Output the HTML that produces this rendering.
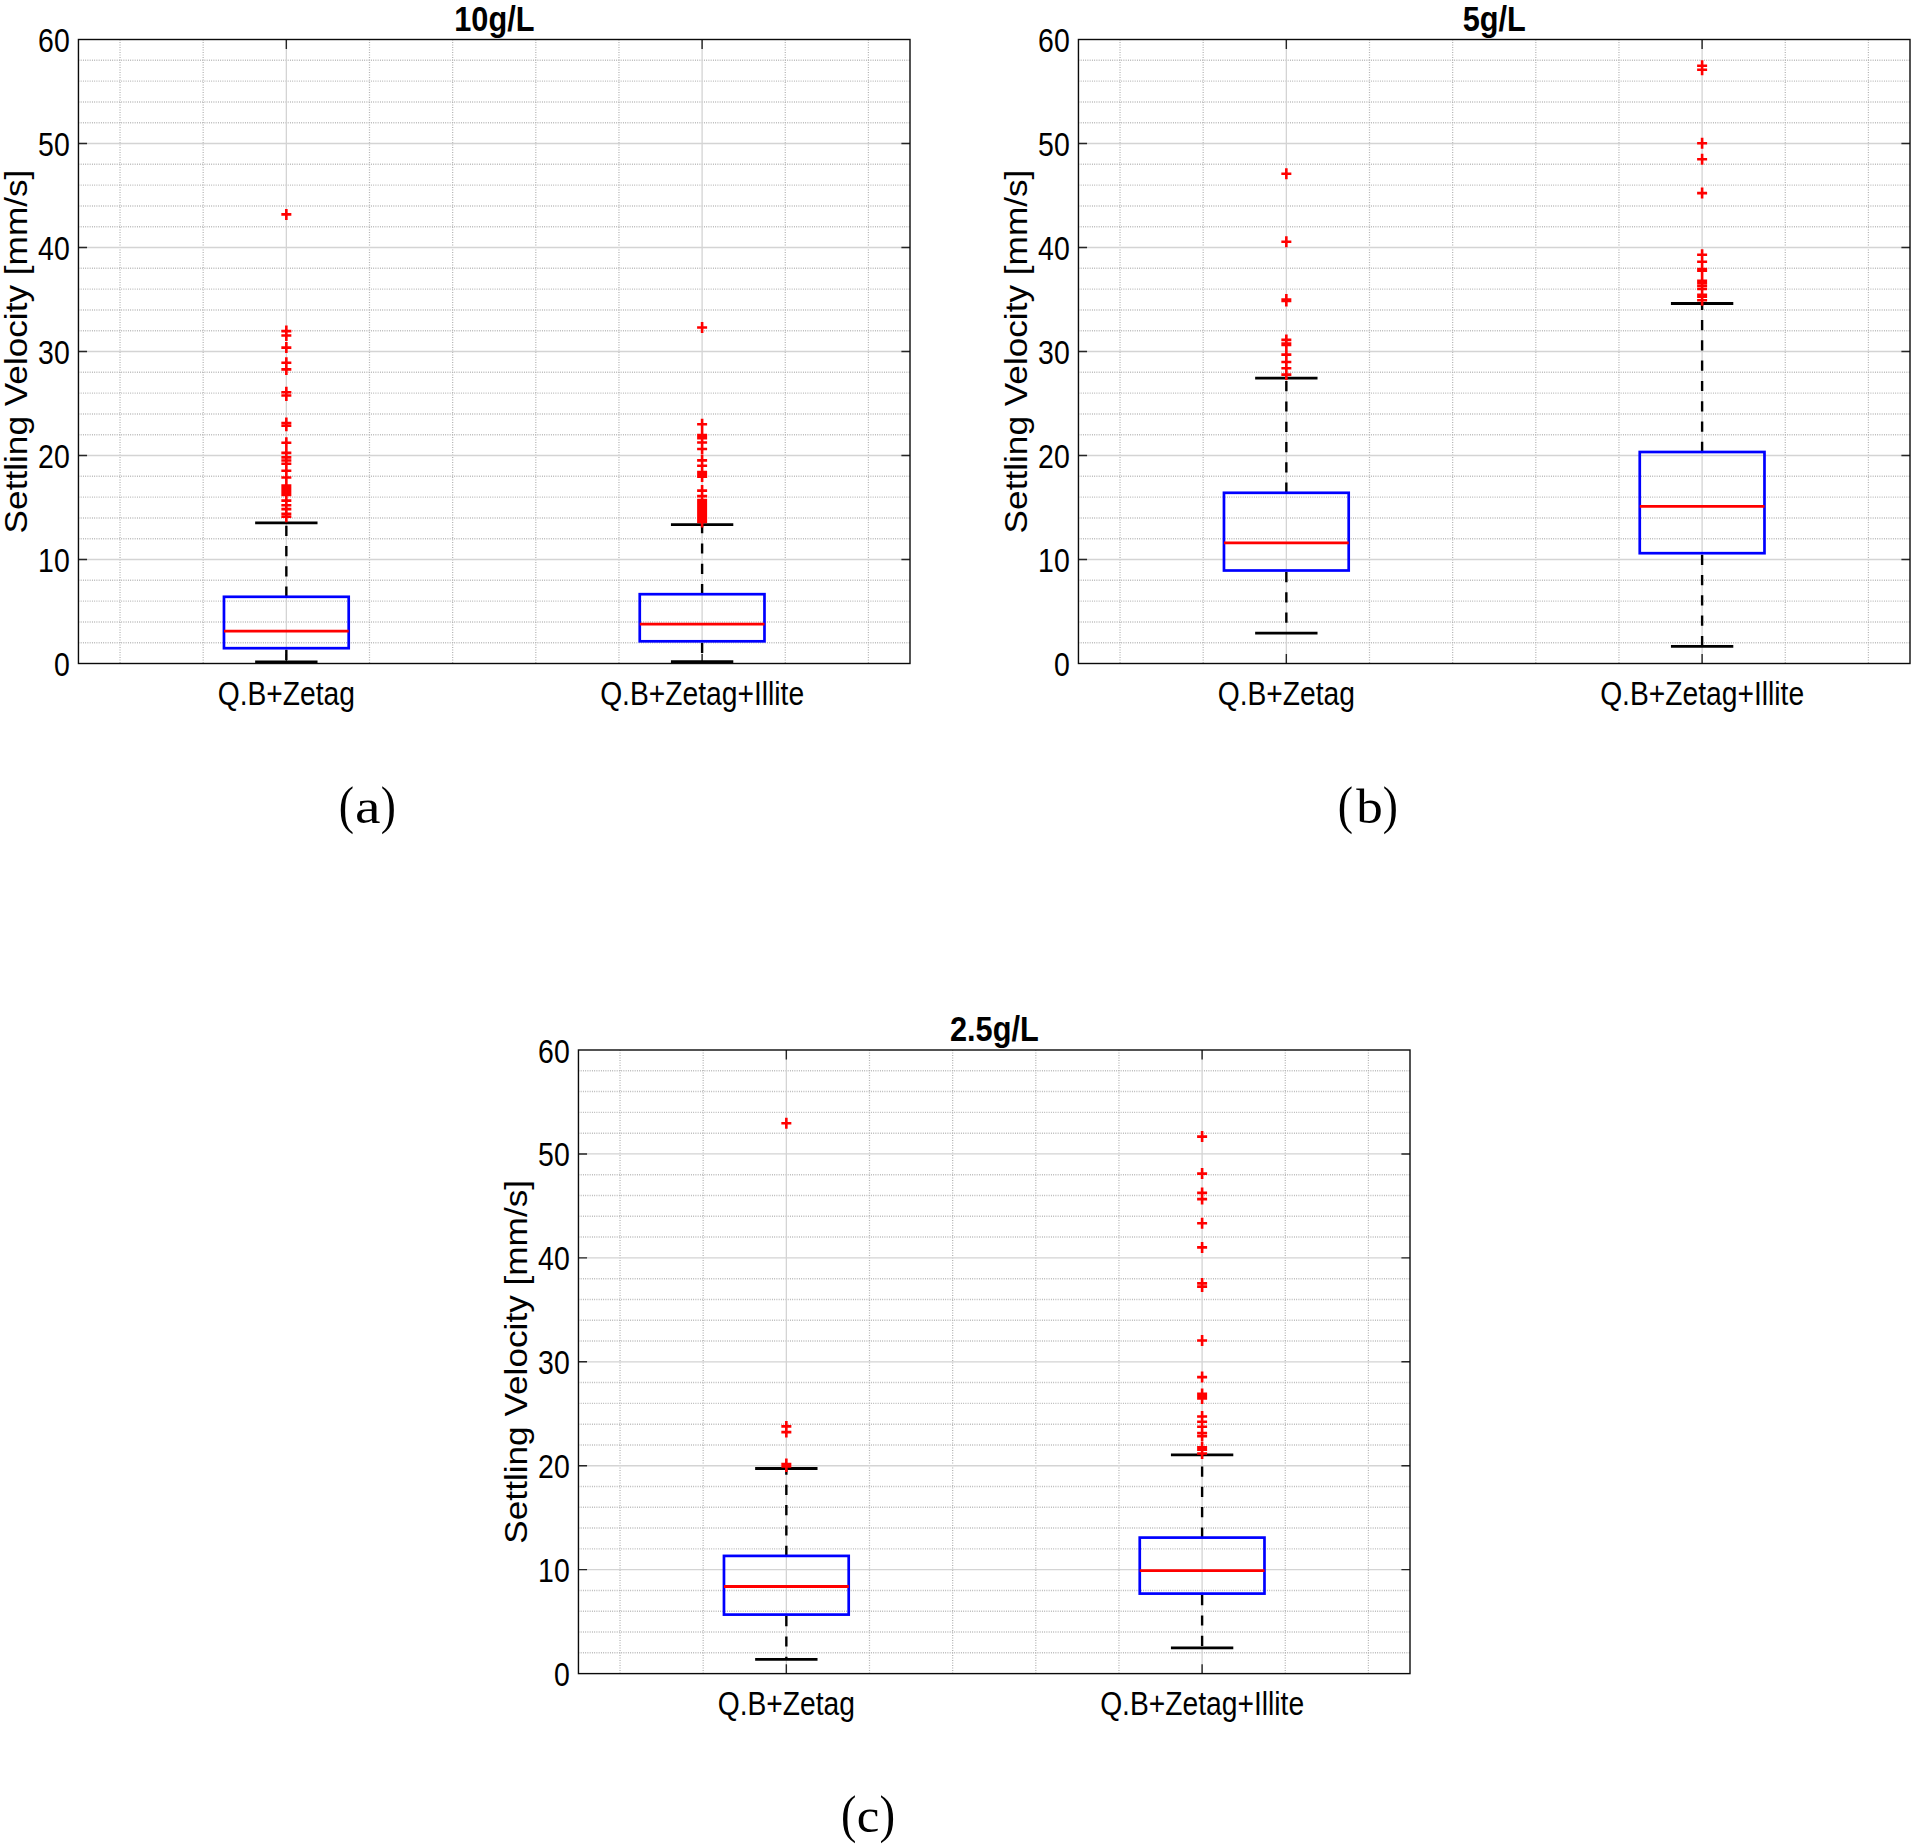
<!DOCTYPE html>
<html lang="en"><head><meta charset="utf-8"><title>Settling velocity boxplots</title>
<style>
html,body{margin:0;padding:0;background:#fff;}
body{width:1915px;height:1848px;overflow:hidden;}
svg{display:block;}
text{font-family:"Liberation Sans",Arial,Helvetica,sans-serif;fill:#000;}
.tl{font-size:32.6px;}
.tt{font-size:36px;font-weight:bold;}
.yl{font-size:35.2px;}
.cap{font-family:"Liberation Serif","Times New Roman",serif;}
.mg{stroke:#b4b4b4;stroke-width:1.45;stroke-dasharray:0.9 1.35;fill:none;}
.mv{stroke-width:1.25;stroke-dasharray:1 1.5;}
.Mg{stroke:#d4d4d4;stroke-width:1.3;fill:none;}
.tk{stroke:#262626;stroke-width:1.4;fill:none;}
.fr{stroke:#0a0a0a;stroke-width:1.4;fill:none;}
.wh{stroke:#000;stroke-width:2.4;stroke-dasharray:10.2 10.1;fill:none;}
.cp{stroke:#000;stroke-width:2.8;fill:none;}
.bx{stroke:#0000ff;stroke-width:2.7;fill:none;}
.md{stroke:#ff0000;stroke-width:2.8;fill:none;}
.ol{stroke:#ff0000;stroke-width:2.6;fill:none;}
</style></head>
<body>
<svg width="1915" height="1848" viewBox="0 0 1915 1848">
<rect width="1915" height="1848" fill="#fff"/>
<g>
<path class="mg" d="M78.45 642.7H910M78.45 621.9H910M78.45 601.1H910M78.45 580.3H910M78.45 538.7H910M78.45 517.9H910M78.45 497.1H910M78.45 476.3H910M78.45 434.7H910M78.45 413.9H910M78.45 393.1H910M78.45 372.3H910M78.45 330.7H910M78.45 309.9H910M78.45 289.1H910M78.45 268.3H910M78.45 226.7H910M78.45 205.9H910M78.45 185.1H910M78.45 164.3H910M78.45 122.7H910M78.45 101.9H910M78.45 81.1H910M78.45 60.3H910"/>
<path class="mg mv" d="M120.03 39.5V663.5M203.18 39.5V663.5M369.49 39.5V663.5M452.65 39.5V663.5M535.8 39.5V663.5M618.96 39.5V663.5M785.27 39.5V663.5M868.42 39.5V663.5"/>
<path class="Mg" d="M78.45 559.5H910M78.45 455.5H910M78.45 351.5H910M78.45 247.5H910M78.45 143.5H910M286.34 39.5V663.5M702.11 39.5V663.5"/>
<path class="tk" d="M78.45 559.5h8.6M910 559.5h-8.6M78.45 455.5h8.6M910 455.5h-8.6M78.45 351.5h8.6M910 351.5h-8.6M78.45 247.5h8.6M910 247.5h-8.6M78.45 143.5h8.6M910 143.5h-8.6M286.34 663.5v-9.46M286.34 39.5v9.46M702.11 663.5v-9.46M702.11 39.5v9.46"/>
<path class="wh" d="M286.34 596.8V522.9M286.34 649.7V662"/>
<path class="cp" d="M255.15 522.9h62.37M255.15 662h62.37"/>
<rect class="bx" x="223.97" y="596.8" width="124.73" height="51.4"/>
<path class="md" d="M223.97 631.2h124.73"/>
<path class="ol" d="M281.34 214.4h10M286.34 208.9v11M281.34 331.1h10M286.34 325.6v11M281.34 335.5h10M286.34 330v11M281.34 347.6h10M286.34 342.1v11M281.34 362.7h10M286.34 357.2v11M281.34 369.4h10M286.34 363.9v11M281.34 392.3h10M286.34 386.8v11M281.34 395.5h10M286.34 390v11M281.34 423h10M286.34 417.5v11M281.34 425.8h10M286.34 420.3v11M281.34 442.8h10M286.34 437.3v11M281.34 452.9h10M286.34 447.4v11M281.34 457.4h10M286.34 451.9v11M281.34 460.5h10M286.34 455v11M281.34 463.7h10M286.34 458.2v11M281.34 470.7h10M286.34 465.2v11M281.34 477.5h10M286.34 472v11M281.34 485.5h10M286.34 480v11M281.34 487.5h10M286.34 482v11M281.34 489.5h10M286.34 484v11M281.34 491.5h10M286.34 486v11M281.34 493.5h10M286.34 488v11M281.34 495h10M286.34 489.5v11M281.34 500.6h10M286.34 495.1v11M281.34 505.3h10M286.34 499.8v11M281.34 509.1h10M286.34 503.6v11M281.34 513.9h10M286.34 508.4v11M281.34 516.7h10M286.34 511.2v11"/>
<path class="wh" d="M702.11 594.2V524.7M702.11 642.8V661.7"/>
<path class="cp" d="M670.93 524.7h62.37M670.93 661.7h62.37"/>
<rect class="bx" x="639.75" y="594.2" width="124.73" height="47.1"/>
<path class="md" d="M639.75 624.2h124.73"/>
<path class="ol" d="M697.11 327.5h10M702.11 322v11M697.11 424.3h10M702.11 418.8v11M697.11 435h10M702.11 429.5v11M697.11 436.6h10M702.11 431.1v11M697.11 438.3h10M702.11 432.8v11M697.11 442.5h10M702.11 437v11M697.11 449h10M702.11 443.5v11M697.11 460.4h10M702.11 454.9v11M697.11 465.8h10M702.11 460.3v11M697.11 472h10M702.11 466.5v11M697.11 474h10M702.11 468.5v11M697.11 476.6h10M702.11 471.1v11M697.11 490.6h10M702.11 485.1v11M697.11 496.1h10M702.11 490.6v11M697.11 500h10M702.11 494.5v11M697.11 502h10M702.11 496.5v11M697.11 504h10M702.11 498.5v11M697.11 506h10M702.11 500.5v11M697.11 508h10M702.11 502.5v11M697.11 510h10M702.11 504.5v11M697.11 512h10M702.11 506.5v11M697.11 514h10M702.11 508.5v11M697.11 516h10M702.11 510.5v11M697.11 518h10M702.11 512.5v11M697.11 520h10M702.11 514.5v11M697.11 522h10M702.11 516.5v11"/>
<rect class="fr" x="78.45" y="39.5" width="831.55" height="624"/>
<text class="tl" text-anchor="end" transform="translate(69.75 676) scale(0.873 1)">0</text>
<text class="tl" text-anchor="end" transform="translate(69.75 572) scale(0.873 1)">10</text>
<text class="tl" text-anchor="end" transform="translate(69.75 468) scale(0.873 1)">20</text>
<text class="tl" text-anchor="end" transform="translate(69.75 364) scale(0.873 1)">30</text>
<text class="tl" text-anchor="end" transform="translate(69.75 260) scale(0.873 1)">40</text>
<text class="tl" text-anchor="end" transform="translate(69.75 156) scale(0.873 1)">50</text>
<text class="tl" text-anchor="end" transform="translate(69.75 52) scale(0.873 1)">60</text>
<text class="tl" text-anchor="middle" transform="translate(286.34 705) scale(0.866 1)">Q.B+Zetag</text>
<text class="tl" text-anchor="middle" transform="translate(702.11 705) scale(0.866 1)">Q.B+Zetag+Illite</text>
<text class="tt" text-anchor="middle" transform="translate(494.33 30.5) scale(0.853 1)">10g/L</text>
<text class="yl" text-anchor="middle" transform="translate(27.15 351.5) rotate(-90) scale(1 0.89)">Settling Velocity [mm/s]</text>
<text class="cap" y="822.5"><tspan x="338.84" font-size="53" textLength="15.28" lengthAdjust="spacingAndGlyphs">(</tspan><tspan x="354.99" font-size="48.5" textLength="25.52" lengthAdjust="spacingAndGlyphs">a</tspan><tspan x="380.72" font-size="53" textLength="15.13" lengthAdjust="spacingAndGlyphs">)</tspan></text>
</g>
<g>
<path class="mg" d="M1078.45 642.7H1910M1078.45 621.9H1910M1078.45 601.1H1910M1078.45 580.3H1910M1078.45 538.7H1910M1078.45 517.9H1910M1078.45 497.1H1910M1078.45 476.3H1910M1078.45 434.7H1910M1078.45 413.9H1910M1078.45 393.1H1910M1078.45 372.3H1910M1078.45 330.7H1910M1078.45 309.9H1910M1078.45 289.1H1910M1078.45 268.3H1910M1078.45 226.7H1910M1078.45 205.9H1910M1078.45 185.1H1910M1078.45 164.3H1910M1078.45 122.7H1910M1078.45 101.9H1910M1078.45 81.1H1910M1078.45 60.3H1910"/>
<path class="mg mv" d="M1120.03 39.5V663.5M1203.18 39.5V663.5M1369.49 39.5V663.5M1452.65 39.5V663.5M1535.8 39.5V663.5M1618.96 39.5V663.5M1785.27 39.5V663.5M1868.42 39.5V663.5"/>
<path class="Mg" d="M1078.45 559.5H1910M1078.45 455.5H1910M1078.45 351.5H1910M1078.45 247.5H1910M1078.45 143.5H1910M1286.34 39.5V663.5M1702.11 39.5V663.5"/>
<path class="tk" d="M1078.45 559.5h8.6M1910 559.5h-8.6M1078.45 455.5h8.6M1910 455.5h-8.6M1078.45 351.5h8.6M1910 351.5h-8.6M1078.45 247.5h8.6M1910 247.5h-8.6M1078.45 143.5h8.6M1910 143.5h-8.6M1286.34 663.5v-9.46M1286.34 39.5v9.46M1702.11 663.5v-9.46M1702.11 39.5v9.46"/>
<path class="wh" d="M1286.34 492.8V378.2M1286.34 572V633.2"/>
<path class="cp" d="M1255.15 378.2h62.37M1255.15 633.2h62.37"/>
<rect class="bx" x="1223.97" y="492.8" width="124.73" height="77.7"/>
<path class="md" d="M1223.97 542.9h124.73"/>
<path class="ol" d="M1281.34 173.8h10M1286.34 168.3v11M1281.34 241.7h10M1286.34 236.2v11M1281.34 299.5h10M1286.34 294v11M1281.34 300.9h10M1286.34 295.4v11M1281.34 339.9h10M1286.34 334.4v11M1281.34 343.5h10M1286.34 338v11M1281.34 344.9h10M1286.34 339.4v11M1281.34 354.6h10M1286.34 349.1v11M1281.34 362h10M1286.34 356.5v11M1281.34 368.3h10M1286.34 362.8v11M1281.34 374.6h10M1286.34 369.1v11"/>
<path class="wh" d="M1702.11 452V303.5M1702.11 554.7V646.4"/>
<path class="cp" d="M1670.93 303.5h62.37M1670.93 646.4h62.37"/>
<rect class="bx" x="1639.75" y="452" width="124.73" height="101.2"/>
<path class="md" d="M1639.75 506.3h124.73"/>
<path class="ol" d="M1697.11 65.7h10M1702.11 60.2v11M1697.11 69.8h10M1702.11 64.3v11M1697.11 143.3h10M1702.11 137.8v11M1697.11 159.2h10M1702.11 153.7v11M1697.11 193.1h10M1702.11 187.6v11M1697.11 254.8h10M1702.11 249.3v11M1697.11 261.7h10M1702.11 256.2v11M1697.11 269h10M1702.11 263.5v11M1697.11 270.6h10M1702.11 265.1v11M1697.11 280.8h10M1702.11 275.3v11M1697.11 282.9h10M1702.11 277.4v11M1697.11 285.7h10M1702.11 280.2v11M1697.11 288.9h10M1702.11 283.4v11M1697.11 294.9h10M1702.11 289.4v11M1697.11 296.6h10M1702.11 291.1v11M1697.11 300.3h10M1702.11 294.8v11"/>
<rect class="fr" x="1078.45" y="39.5" width="831.55" height="624"/>
<text class="tl" text-anchor="end" transform="translate(1069.75 676) scale(0.873 1)">0</text>
<text class="tl" text-anchor="end" transform="translate(1069.75 572) scale(0.873 1)">10</text>
<text class="tl" text-anchor="end" transform="translate(1069.75 468) scale(0.873 1)">20</text>
<text class="tl" text-anchor="end" transform="translate(1069.75 364) scale(0.873 1)">30</text>
<text class="tl" text-anchor="end" transform="translate(1069.75 260) scale(0.873 1)">40</text>
<text class="tl" text-anchor="end" transform="translate(1069.75 156) scale(0.873 1)">50</text>
<text class="tl" text-anchor="end" transform="translate(1069.75 52) scale(0.873 1)">60</text>
<text class="tl" text-anchor="middle" transform="translate(1286.34 705) scale(0.866 1)">Q.B+Zetag</text>
<text class="tl" text-anchor="middle" transform="translate(1702.11 705) scale(0.866 1)">Q.B+Zetag+Illite</text>
<text class="tt" text-anchor="middle" transform="translate(1494.32 30.5) scale(0.853 1)">5g/L</text>
<text class="yl" text-anchor="middle" transform="translate(1027.15 351.5) rotate(-90) scale(1 0.89)">Settling Velocity [mm/s]</text>
<text class="cap" y="822.5"><tspan x="1337.74" font-size="53" textLength="15.28" lengthAdjust="spacingAndGlyphs">(</tspan><tspan x="1356.3" font-size="48.5" textLength="26.49" lengthAdjust="spacingAndGlyphs">b</tspan><tspan x="1382.72" font-size="53" textLength="15.13" lengthAdjust="spacingAndGlyphs">)</tspan></text>
</g>
<g>
<path class="mg" d="M578.45 1652.81H1410M578.45 1632.03H1410M578.45 1611.24H1410M578.45 1590.45H1410M578.45 1548.88H1410M578.45 1528.09H1410M578.45 1507.31H1410M578.45 1486.52H1410M578.45 1444.95H1410M578.45 1424.16H1410M578.45 1403.37H1410M578.45 1382.59H1410M578.45 1341.01H1410M578.45 1320.23H1410M578.45 1299.44H1410M578.45 1278.65H1410M578.45 1237.08H1410M578.45 1216.29H1410M578.45 1195.51H1410M578.45 1174.72H1410M578.45 1133.15H1410M578.45 1112.36H1410M578.45 1091.57H1410M578.45 1070.79H1410"/>
<path class="mg mv" d="M620.03 1050V1673.6M703.18 1050V1673.6M869.49 1050V1673.6M952.65 1050V1673.6M1035.8 1050V1673.6M1118.96 1050V1673.6M1285.27 1050V1673.6M1368.42 1050V1673.6"/>
<path class="Mg" d="M578.45 1569.67H1410M578.45 1465.73H1410M578.45 1361.8H1410M578.45 1257.87H1410M578.45 1153.93H1410M786.34 1050V1673.6M1202.11 1050V1673.6"/>
<path class="tk" d="M578.45 1569.67h8.6M1410 1569.67h-8.6M578.45 1465.73h8.6M1410 1465.73h-8.6M578.45 1361.8h8.6M1410 1361.8h-8.6M578.45 1257.87h8.6M1410 1257.87h-8.6M578.45 1153.93h8.6M1410 1153.93h-8.6M786.34 1673.6v-9.46M786.34 1050v9.46M1202.11 1673.6v-9.46M1202.11 1050v9.46"/>
<path class="wh" d="M786.34 1555.9V1468.5M786.34 1616.1V1659.4"/>
<path class="cp" d="M755.15 1468.5h62.37M755.15 1659.4h62.37"/>
<rect class="bx" x="723.97" y="1555.9" width="124.73" height="58.7"/>
<path class="md" d="M723.97 1586.5h124.73"/>
<path class="ol" d="M781.34 1123.3h10M786.34 1117.8v11M781.34 1426.4h10M786.34 1420.9v11M781.34 1432.1h10M786.34 1426.6v11M781.34 1464h10M786.34 1458.5v11M781.34 1466.5h10M786.34 1461v11"/>
<path class="wh" d="M1202.11 1537.6V1454.8M1202.11 1595.1V1647.9"/>
<path class="cp" d="M1170.93 1454.8h62.37M1170.93 1647.9h62.37"/>
<rect class="bx" x="1139.75" y="1537.6" width="124.73" height="56"/>
<path class="md" d="M1139.75 1570.6h124.73"/>
<path class="ol" d="M1197.11 1136.6h10M1202.11 1131.1v11M1197.11 1173.6h10M1202.11 1168.1v11M1197.11 1192.9h10M1202.11 1187.4v11M1197.11 1199.1h10M1202.11 1193.6v11M1197.11 1223.3h10M1202.11 1217.8v11M1197.11 1247.4h10M1202.11 1241.9v11M1197.11 1283.4h10M1202.11 1277.9v11M1197.11 1286.6h10M1202.11 1281.1v11M1197.11 1340.5h10M1202.11 1335v11M1197.11 1377.1h10M1202.11 1371.6v11M1197.11 1393.9h10M1202.11 1388.4v11M1197.11 1396.4h10M1202.11 1390.9v11M1197.11 1398.5h10M1202.11 1393v11M1197.11 1416.5h10M1202.11 1411v11M1197.11 1421.7h10M1202.11 1416.2v11M1197.11 1426.8h10M1202.11 1421.3v11M1197.11 1433h10M1202.11 1427.5v11M1197.11 1436.1h10M1202.11 1430.6v11M1197.11 1447.4h10M1202.11 1441.9v11M1197.11 1449.8h10M1202.11 1444.3v11M1197.11 1453.5h10M1202.11 1448v11"/>
<rect class="fr" x="578.45" y="1050" width="831.55" height="623.6"/>
<text class="tl" text-anchor="end" transform="translate(569.75 1686.1) scale(0.873 1)">0</text>
<text class="tl" text-anchor="end" transform="translate(569.75 1582.17) scale(0.873 1)">10</text>
<text class="tl" text-anchor="end" transform="translate(569.75 1478.23) scale(0.873 1)">20</text>
<text class="tl" text-anchor="end" transform="translate(569.75 1374.3) scale(0.873 1)">30</text>
<text class="tl" text-anchor="end" transform="translate(569.75 1270.37) scale(0.873 1)">40</text>
<text class="tl" text-anchor="end" transform="translate(569.75 1166.43) scale(0.873 1)">50</text>
<text class="tl" text-anchor="end" transform="translate(569.75 1062.5) scale(0.873 1)">60</text>
<text class="tl" text-anchor="middle" transform="translate(786.34 1715.1) scale(0.866 1)">Q.B+Zetag</text>
<text class="tl" text-anchor="middle" transform="translate(1202.11 1715.1) scale(0.866 1)">Q.B+Zetag+Illite</text>
<text class="tt" text-anchor="middle" transform="translate(994.33 1041) scale(0.853 1)">2.5g/L</text>
<text class="yl" text-anchor="middle" transform="translate(527.15 1361.8) rotate(-90) scale(1 0.89)">Settling Velocity [mm/s]</text>
<text class="cap" y="1832.3"><tspan x="840.92" font-size="53" textLength="15.41" lengthAdjust="spacingAndGlyphs">(</tspan><tspan x="856.89" font-size="48.5" textLength="22.61" lengthAdjust="spacingAndGlyphs">c</tspan><tspan x="879.57" font-size="53" textLength="15.65" lengthAdjust="spacingAndGlyphs">)</tspan></text>
</g>
</svg>
</body></html>
